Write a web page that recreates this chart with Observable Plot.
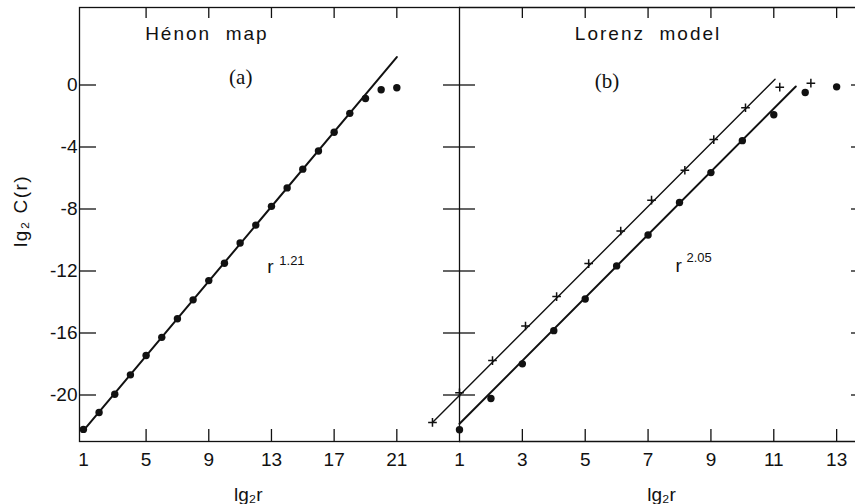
<!DOCTYPE html>
<html><head><meta charset="utf-8">
<script src="https://cdn.jsdelivr.net/npm/d3@7"></script>
<script src="https://cdn.jsdelivr.net/npm/@observablehq/plot@0.6"></script>
<style>
body{margin:0;background:#fff;}
#wrap{display:flex;width:855px;height:504px;overflow:hidden;background:#fff;}
#wrap svg{overflow:visible;flex:none;}
</style></head><body><div id="wrap"></div>
<script>
// ---- data ----
const henonX = [1,2,3,4,5,6,7,8,9,10,11,12,13,14,15,16,17,18,19,20,21];
const henonY = [-22.22,-21.13,-19.95,-18.70,-17.45,-16.28,-15.08,-13.86,-12.62,-11.50,-10.19,-9.04,-7.83,-6.64,-5.43,-4.26,-3.05,-1.83,-0.87,-0.31,-0.18];
const henonFitX = [1, 21];
const henonFitY = [-22.3, 1.8];

const lorenzDotX = [1,2,3,4,5,6,7,8,9,10,11,12,13];
const lorenzDotY = [-22.24,-20.23,-17.99,-15.85,-13.81,-11.67,-9.68,-7.58,-5.65,-3.59,-1.92,-0.48,-0.12];
const lorenzDotFitX = [1, 11.7];
const lorenzDotFitY = [-21.85, -0.1];

const lorenzPlusX = [0.14,1.0,2.05,3.1,4.09,5.11,6.13,7.11,8.17,9.09,10.1,11.19,12.18];
const lorenzPlusY = [-21.77,-19.86,-17.78,-15.55,-13.65,-11.52,-9.42,-7.43,-5.50,-3.52,-1.47,-0.14,0.12];
const lorenzPlusFitX = [0.14, 11.04];
const lorenzPlusFitY = [-21.77, 0.37];

const henonTicks = [1,5,9,13,17,21];
const lorenzTicks = [1,3,5,7,9,11,13];
const yTicks = [0,-4,-8,-12,-16,-20];

// ---- build ----
const zip = (xs, ys) => xs.map((x, i) => ({x, y: ys[i]}));
const henon = zip(henonX, henonY);
const henonFit = zip(henonFitX, henonFitY);
const lDots = zip(lorenzDotX, lorenzDotY);
const lDotsFit = zip(lorenzDotFitX, lorenzDotFitY);
const lPlus = zip(lorenzPlusX, lorenzPlusY);
const lPlusFit = zip(lorenzPlusFitX, lorenzPlusFitY);

const ink = "#111";
const font = "'Liberation Sans', Arial, sans-serif";
const serif = "'Liberation Serif', 'Times New Roman', serif";
const W = 855, H = 504, mTop = 7, mBottom = 63;
const leftW = 459, leftML = 79, rightW = W - leftW;
const innerH = H - mTop - mBottom;
const innerWA = leftW - leftML, innerWB = rightW;
const yDomain = [-23, 5];
const fmt = d => String(d);
const titleA = "Hénon\u00a0\u00a0map", titleB = "Lorenz\u00a0\u00a0model", yTitle = "lg\u2082 C(r)";

const plotA = Plot.plot({
  width: leftW, height: H,
  marginLeft: leftML, marginRight: 0, marginTop: mTop, marginBottom: mBottom,
  x: {domain: [0.75, 25], axis: null},
  y: {domain: yDomain, axis: null},
  style: {fontFamily: font, fontSize: "19px", color: ink, overflow: "visible", background: "transparent"},
  marks: [
    Plot.frame({stroke: ink, strokeWidth: 1.3}),
    Plot.tickX(henonTicks.filter(d => d > 1), {x: d => d, insetTop: innerH - 12, stroke: ink, strokeWidth: 1.3}),
    Plot.tickX(henonTicks.filter(d => d > 1), {x: d => d, insetBottom: innerH - 11, stroke: ink, strokeWidth: 1.3}),
    Plot.tickY(yTicks, {y: d => d, insetRight: innerWA - 17, stroke: ink, strokeWidth: 1.3}),
    Plot.tickY(yTicks, {y: d => d, insetLeft: innerWA - 16, stroke: ink, strokeWidth: 1.3}),
    Plot.text(henonTicks, {x: d => d, text: fmt, frameAnchor: "bottom", lineAnchor: "top", dy: 11, fontSize: 19, fill: ink}),
    Plot.text(yTicks, {y: d => d, text: fmt, frameAnchor: "left", textAnchor: "end", dx: -2, fontSize: 19, fill: ink}),
    Plot.line(henonFit, {x: "x", y: "y", stroke: ink, strokeWidth: 2}),
    Plot.dot(henon, {x: "x", y: "y", r: 3.7, fill: ink, stroke: "none"}),
    Plot.text([titleA], {x: 8.88, y: 2.93, lineAnchor: "bottom", fontSize: 19, fill: ink}),
    Plot.text(["(a)"], {x: 11.04, y: 0.08, lineAnchor: "bottom", fontFamily: serif, fontSize: 21, fill: ink}),
    Plot.text(["r"], {x: 12.93, y: -12.12, lineAnchor: "bottom", fontSize: 19, fill: ink}),
    Plot.text(["1.21"], {x: 13.5, y: -11.61, lineAnchor: "bottom", textAnchor: "start", fontSize: 13, fill: ink}),
    Plot.text([yTitle], {frameAnchor: "left", y: -10.45, dx: -59, rotate: -90, fontSize: 19, fill: ink}),
    Plot.text(["lg\u2082r"], {x: 11.52, frameAnchor: "bottom", dy: 59, lineAnchor: "bottom", fontSize: 19, fill: ink})
  ]
});

const plotB = Plot.plot({
  width: rightW, height: H,
  marginLeft: 0, marginRight: 0, marginTop: mTop, marginBottom: mBottom,
  x: {domain: [1, 13.6], axis: null},
  y: {domain: yDomain, axis: null},
  style: {fontFamily: font, fontSize: "19px", color: ink, overflow: "visible", background: "transparent"},
  marks: [
    Plot.ruleY([yDomain[0], yDomain[1]], {y: d => d, stroke: ink, strokeWidth: 1.3}),
    Plot.tickX(lorenzTicks.filter(d => d > 1), {x: d => d, insetTop: innerH - 12, stroke: ink, strokeWidth: 1.3}),
    Plot.tickX(lorenzTicks.filter(d => d > 1), {x: d => d, insetBottom: innerH - 11, stroke: ink, strokeWidth: 1.3}),
    Plot.tickY(yTicks, {y: d => d, insetRight: innerWB - 16, stroke: ink, strokeWidth: 1.3}),
    Plot.tickY(yTicks, {y: d => d, insetLeft: innerWB - 4, stroke: ink, strokeWidth: 1.3}),
    Plot.text(lorenzTicks, {x: d => d, text: fmt, frameAnchor: "bottom", lineAnchor: "top", dy: 11, fontSize: 19, fill: ink}),
    Plot.line(lPlusFit, {x: "x", y: "y", stroke: ink, strokeWidth: 1.4}),
    Plot.line(lDotsFit, {x: "x", y: "y", stroke: ink, strokeWidth: 2}),
    Plot.dot(lPlus, {x: "x", y: "y", symbol: "plus", r: 2.9, stroke: ink, strokeWidth: 1.5}),
    Plot.dot(lDots, {x: "x", y: "y", r: 3.7, fill: ink, stroke: "none"}),
    Plot.text([titleB], {x: 7.0, y: 2.93, lineAnchor: "bottom", fontSize: 19, fill: ink}),
    Plot.text(["(b)"], {x: 5.69, y: -0.18, lineAnchor: "bottom", fontFamily: serif, fontSize: 21, fill: ink}),
    Plot.text(["r"], {x: 7.97, y: -12.06, lineAnchor: "bottom", fontSize: 19, fill: ink}),
    Plot.text(["2.05"], {x: 8.22, y: -11.41, lineAnchor: "bottom", textAnchor: "start", fontSize: 13, fill: ink}),
    Plot.text(["lg\u2082r"], {x: 7.43, frameAnchor: "bottom", dy: 59, lineAnchor: "bottom", fontSize: 19, fill: ink})
  ]
});

// letter-spacing of the hand-lettered titles
const spacing = new Map([[titleA, "2px"], [titleB, "2px"], [yTitle, "1.5px"]]);
for (const p of [plotA, plotB]) {
  d3.select(p).selectAll("text").each(function() {
    const s = spacing.get(this.textContent);
    if (s) { this.setAttribute("letter-spacing", s); this.style.letterSpacing = s; }
  });
}

const wrap = document.getElementById("wrap");
wrap.appendChild(plotA);
wrap.appendChild(plotB);
</script>
</body></html>
